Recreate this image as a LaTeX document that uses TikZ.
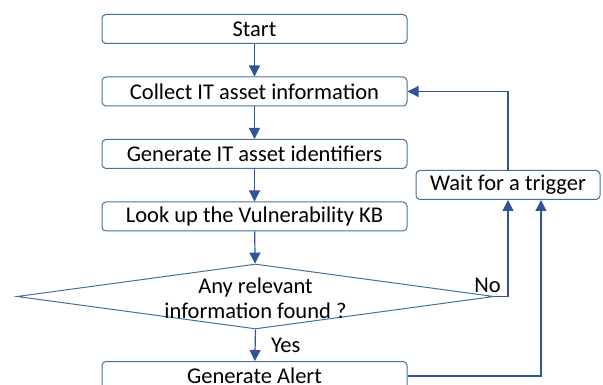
\documentclass[tikz,border=0pt]{standalone}
\usepackage{fontspec}
\setmainfont{Carlito}
\usepackage{xcolor}
\usetikzlibrary{arrows.meta,shapes.geometric}
\definecolor{boxblue}{HTML}{41719C}
\definecolor{lineblue}{HTML}{2F5597}

\begin{document}
\begin{tikzpicture}[x=1pt,y=-1pt,>={Triangle[width=11pt,length=11pt]},
  box/.style={draw=boxblue,line width=1pt,rounded corners=4pt,minimum width=305pt,
    minimum height=29pt,inner sep=0pt,font=\fontsize{22.5}{27}\selectfont},
  decision/.style={draw=boxblue,line width=1pt,shape=diamond,minimum width=477pt,
    minimum height=65pt,inner sep=0pt},
  flow/.style={draw=lineblue,line width=1.2pt,->}]
\useasboundingbox(0,0)rectangle(603,385);
\clip(0,0)rectangle(603,385);
% main column
\node[box](start)at(254.5,29){Start};
\node[box](collect)at(254.5,91.5){Collect IT asset information};
\node[box](genid)at(254.5,154){Generate IT asset identifiers};
\node[box](lookup)at(254.5,216.5){Look up the Vulnerability KB};
\node[decision](decide)at(255.5,296.5){};
\node[align=center,font=\fontsize{22.5}{25}\selectfont](question)at(255.5,298)
  {Any relevant\\information found ?};
\node[box](alert)at(254.5,376){Generate Alert};
% side box
\node[box,minimum width=184pt](wait)at(508,185){Wait for a trigger};
\draw[flow](start)--(collect);
\draw[flow](collect)--(genid);
\draw[flow](genid)--(lookup);
\draw[flow](lookup)--(decide);
\draw[flow](decide.south)--node[right=12pt,font=\fontsize{22.5}{27}\selectfont]{Yes}(alert);
\draw[flow](decide.east)node[anchor=south,xshift=-7pt,font=\fontsize{22.5}{27}\selectfont]{No}
  -|(wait.south);
\draw[flow](alert.east)-|([xshift=33pt]wait.south);
\draw[flow](wait.north)|-(collect.east);
\end{tikzpicture}
\end{document}
